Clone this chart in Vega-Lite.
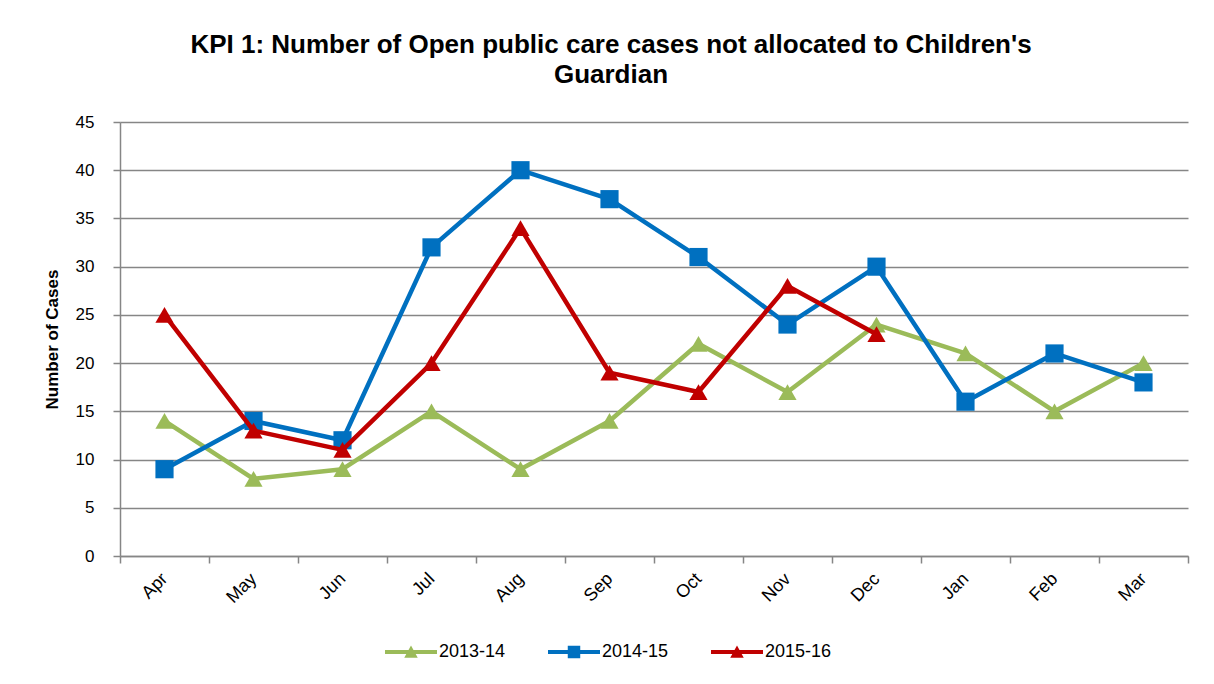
{
  "$schema": "https://vega.github.io/schema/vega-lite/v6.json",
  "width": 1068,
  "height": 434,
  "autosize": "none",
  "padding": {"left": 120, "top": 122, "right": 26, "bottom": 128},
  "background": "white",
  "config": {
    "font": "Liberation Sans",
    "view": {"stroke": null},
    "axis": {"labelColor": "black", "titleColor": "black"}
  },
  "title": {
    "text": ["KPI 1: Number of Open public care cases not allocated to Children's", "Guardian"],
    "fontSize": 26,
    "fontWeight": "bold",
    "font": "Liberation Sans",
    "color": "black",
    "lineHeight": 30,
    "anchor": "middle",
    "dx": -43,
    "offset": 25
  },
  "data": {
    "values": [
      {"month": "Apr", "series": "2013-14", "cases": 14},
      {"month": "May", "series": "2013-14", "cases": 8},
      {"month": "Jun", "series": "2013-14", "cases": 9},
      {"month": "Jul", "series": "2013-14", "cases": 15},
      {"month": "Aug", "series": "2013-14", "cases": 9},
      {"month": "Sep", "series": "2013-14", "cases": 14},
      {"month": "Oct", "series": "2013-14", "cases": 22},
      {"month": "Nov", "series": "2013-14", "cases": 17},
      {"month": "Dec", "series": "2013-14", "cases": 24},
      {"month": "Jan", "series": "2013-14", "cases": 21},
      {"month": "Feb", "series": "2013-14", "cases": 15},
      {"month": "Mar", "series": "2013-14", "cases": 20},
      {"month": "Apr", "series": "2014-15", "cases": 9},
      {"month": "May", "series": "2014-15", "cases": 14},
      {"month": "Jun", "series": "2014-15", "cases": 12},
      {"month": "Jul", "series": "2014-15", "cases": 32},
      {"month": "Aug", "series": "2014-15", "cases": 40},
      {"month": "Sep", "series": "2014-15", "cases": 37},
      {"month": "Oct", "series": "2014-15", "cases": 31},
      {"month": "Nov", "series": "2014-15", "cases": 24},
      {"month": "Dec", "series": "2014-15", "cases": 30},
      {"month": "Jan", "series": "2014-15", "cases": 16},
      {"month": "Feb", "series": "2014-15", "cases": 21},
      {"month": "Mar", "series": "2014-15", "cases": 18},
      {"month": "Apr", "series": "2015-16", "cases": 25},
      {"month": "May", "series": "2015-16", "cases": 13},
      {"month": "Jun", "series": "2015-16", "cases": 11},
      {"month": "Jul", "series": "2015-16", "cases": 20},
      {"month": "Aug", "series": "2015-16", "cases": 34},
      {"month": "Sep", "series": "2015-16", "cases": 19},
      {"month": "Oct", "series": "2015-16", "cases": 17},
      {"month": "Nov", "series": "2015-16", "cases": 28},
      {"month": "Dec", "series": "2015-16", "cases": 23}
    ]
  },
  "encoding": {
    "x": {
      "field": "month",
      "type": "nominal",
      "sort": ["Apr", "May", "Jun", "Jul", "Aug", "Sep", "Oct", "Nov", "Dec", "Jan", "Feb", "Mar"],
      "scale": {"type": "band", "paddingInner": 0, "paddingOuter": 0},
      "axis": {
        "title": null,
        "labelAngle": -45,
        "labelFontSize": 18,
        "labelAlign": "right",
        "labelBaseline": "middle",
        "labelPadding": 13,
        "labelOffset": 0,
        "domainColor": "#868686",
        "domainWidth": 1.5,
        "tickColor": "#868686",
        "tickSize": 7,
        "tickWidth": 1.5,
        "tickBand": "extent",
        "grid": false
      }
    },
    "y": {
      "field": "cases",
      "type": "quantitative",
      "scale": {"domain": [0, 45], "nice": false, "zero": true},
      "axis": {
        "title": "Number of Cases",
        "titleFontSize": 17,
        "titleFontWeight": "bold",
        "titlePadding": 14,
        "values": [0, 5, 10, 15, 20, 25, 30, 35, 40, 45],
        "labelFontSize": 17,
        "labelPadding": 19,
        "domainColor": "#868686",
        "domainWidth": 1.5,
        "tickColor": "#868686",
        "tickSize": 7,
        "tickWidth": 1.5,
        "grid": true,
        "gridColor": "#868686",
        "gridWidth": 1.5
      }
    }
  },
  "layer": [
    {
      "transform": [{"filter": "datum.series === '2013-14'"}],
      "mark": {"type": "line", "strokeWidth": 4.5, "strokeJoin": "round", "strokeCap": "round"},
      "encoding": {
        "color": {
          "field": "series",
          "type": "nominal",
          "scale": {"domain": ["2013-14", "2014-15", "2015-16"], "range": ["#9BBB59", "#0070C0", "#C00000"]},
          "legend": {
            "title": null,
            "orient": "none",
            "direction": "horizontal",
            "legendX": 265,
            "legendY": 504,
            "labelFontSize": 18,
            "labelColor": "black",
            "labelOffset": 2,
            "columnPadding": 42,
            "symbolSize": 2704,
            "encode": {
              "symbols": {
                "update": {
                  "shape": {"signal": "datum.value === '2014-15' ? 'M-1,-0.08 H1 V0.08 H-1 Z M-0.24,-0.24 H0.24 V0.24 H-0.24 Z' : 'M-1,-0.08 H1 V0.08 H-1 Z M-0.26,0.22 L0,-0.25 L0.26,0.22 Z'"},
                  "fill": {"scale": "color", "field": "value"},
                  "fillOpacity": {"value": 1},
                  "stroke": {"value": "transparent"},
                  "strokeWidth": {"value": 0}
                }
              }
            }
          }
        }
      }
    },
    {
      "transform": [{"filter": "datum.series === '2013-14'"}],
      "mark": {"type": "point", "filled": true, "opacity": 1, "size": 330, "shape": "triangle-up"},
      "encoding": {"color": {"field": "series", "type": "nominal", "legend": null}}
    },
    {
      "transform": [{"filter": "datum.series === '2014-15'"}],
      "mark": {"type": "line", "strokeWidth": 4.5, "strokeJoin": "round", "strokeCap": "round"},
      "encoding": {"color": {"field": "series", "type": "nominal", "legend": null}}
    },
    {
      "transform": [{"filter": "datum.series === '2014-15'"}],
      "mark": {"type": "point", "filled": true, "opacity": 1, "size": 330, "shape": "square"},
      "encoding": {"color": {"field": "series", "type": "nominal", "legend": null}}
    },
    {
      "transform": [{"filter": "datum.series === '2015-16'"}],
      "mark": {"type": "line", "strokeWidth": 4.5, "strokeJoin": "round", "strokeCap": "round"},
      "encoding": {"color": {"field": "series", "type": "nominal", "legend": null}}
    },
    {
      "transform": [{"filter": "datum.series === '2015-16'"}],
      "mark": {"type": "point", "filled": true, "opacity": 1, "size": 330, "shape": "triangle-up"},
      "encoding": {"color": {"field": "series", "type": "nominal", "legend": null}}
    }
  ]
}
